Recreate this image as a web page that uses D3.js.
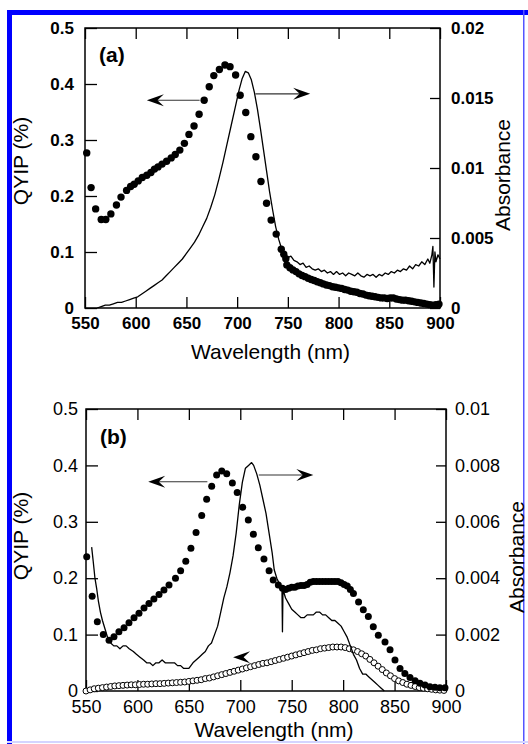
<!DOCTYPE html>
<html>
<head>
<meta charset="utf-8">
<script src="https://cdnjs.cloudflare.com/ajax/libs/d3/7.8.5/d3.min.js"></script>
<style>
html, body { margin: 0; padding: 0; background: #fff; }
svg { display: block; }
</style>
</head>
<body>
<svg id="chart" width="528" height="744"></svg>
<script>
// ---------- data ----------
var xTicks = [550, 600, 650, 700, 750, 800, 850, 900];
var qyTicks = [0, 0.1, 0.2, 0.3, 0.4, 0.5];
var absTicksA = [0, 0.005, 0.01, 0.015, 0.02];
var absTicksB = [0, 0.002, 0.004, 0.006, 0.008, 0.01];

// panel (a) QYIP, filled circles [nm, %]
var qyA = [
  [551.7,0.277],[556,0.215],[560.5,0.177],[566,0.158],[570.5,0.158],[575.5,0.168],
  [581,0.184],[585.5,0.198],[591,0.21],[595,0.217],[598.5,0.221],[602.5,0.227],
  [606.5,0.233],[611,0.237],[615,0.242],[618.5,0.248],[622,0.252],[626,0.257],
  [630.5,0.262],[635,0.268],[639,0.274],[643.5,0.282],[648,0.294],[652.5,0.31],
  [657.5,0.325],[662.5,0.346],[667.5,0.371],[672.5,0.395],[677,0.415],[682.5,0.426],
  [688,0.434],[693,0.431],[698.5,0.416],[703,0.38],[708.5,0.349],[713.5,0.306],
  [718.5,0.27],[723.5,0.226],[729,0.187],[733.5,0.157],[738.5,0.132],[743.5,0.105],
  [746,0.096],[748,0.088],[749,0.077],[752,0.072],[755,0.068],[758,0.065],[761,0.061],
  [764,0.058],[767,0.056],[770,0.053],[773,0.051],[776,0.049],[779,0.047],[782,0.045],
  [785,0.043],[788,0.041],[791,0.040],[794,0.038],[797,0.037],[800,0.036],[803,0.035],
  [806,0.033],[809,0.032],[812,0.030],[815,0.029],[818,0.028],[821,0.026],[824,0.025],
  [827,0.023],[830,0.022],[833,0.021],[836,0.020],[839,0.019],[842,0.018],[845,0.018],
  [848,0.017],[851,0.018],[854,0.018],[857,0.016],[860,0.015],[863,0.014],[866,0.014],
  [869,0.013],[872,0.012],[875,0.011],[878,0.010],[881,0.009],[884,0.008],[887,0.007],
  [890,0.006],[893,0.005],[896,0.006],[899,0.007]
];

// panel (a) absorbance, line [nm, abs]
var absA = [
  [562,0.0000],[566,0.0001],[570,0.0002],[574,0.0002],[578,0.0003],[582,0.0004],
  [586,0.0004],[590,0.0005],[594,0.0006],[598,0.0007],[602,0.0008],[606,0.0010],
  [610,0.0012],[614,0.0014],[618,0.0016],[622,0.0018],[626,0.0020],[630,0.0023],
  [634,0.0026],[638,0.0029],[642,0.0032],[646,0.0035],[650,0.0039],[654,0.0043],
  [658,0.0047],[662,0.0052],[666,0.0058],[670,0.0064],[674,0.0072],[678,0.0081],
  [682,0.0092],[686,0.0104],[690,0.0117],[694,0.0130],[698,0.0143],[702,0.0156],
  [705,0.0164],[708,0.0169],[711,0.0168],[714,0.0163],[717,0.0154],[720,0.0142],
  [723,0.0128],[726,0.0113],[729,0.0098],[732,0.0083],[735,0.0070],[738,0.0058],
  [741,0.0049],[744,0.0042],[747,0.0038],[750,0.0036],[753,0.0037],[756,0.0034],
  [759,0.0033],[762,0.0031],[765,0.0032],[768,0.0029],[771,0.0030],[774,0.0028],
  [777,0.0027],[780,0.0028],[783,0.0026],[786,0.0027],[789,0.0025],[792,0.0026],
  [795,0.0024],[798,0.0026],[801,0.0024],[804,0.0025],[807,0.0023],[810,0.0025],
  [813,0.0024],[816,0.0023],[819,0.0025],[822,0.0023],[825,0.0022],[828,0.0024],
  [831,0.0023],[834,0.0024],[837,0.0022],[840,0.0024],[843,0.0023],[846,0.0025],
  [849,0.0024],[852,0.0026],[855,0.0025],[858,0.0027],[861,0.0026],[864,0.0028],
  [867,0.0027],[870,0.0030],[873,0.0028],[876,0.0031],[879,0.0030],[882,0.0033],
  [885,0.0031],[888,0.0035],[890,0.0032],[892,0.0038],[893,0.0044],[894,0.0015],
  [895,0.0040],[896,0.0033],[898,0.0038],[900,0.0035]
];

// panel (b) QYIP, filled circles
var qyB = [
  [550.7,0.238],[556,0.168],[561,0.123],[566.8,0.100],[572.4,0.090],[577.2,0.096],
  [582,0.105],[587,0.112],[591.8,0.121],[596.7,0.130],[601.5,0.138],[606.4,0.147],
  [611.2,0.155],[616,0.163],[621,0.171],[625.8,0.179],[630.7,0.188],[637,0.200],
  [642,0.213],[647,0.230],[652,0.253],[657,0.281],[662.5,0.311],[667.3,0.340],
  [672.2,0.363],[677,0.383],[682,0.390],[686.8,0.385],[692.3,0.369],[697,0.352],
  [702.3,0.326],[707.8,0.303],[712.7,0.278],[717.5,0.254],[723,0.234],[728,0.213],
  [732,0.197],[737,0.188],[741,0.182],[744,0.180],[747,0.182],[750,0.184],[753,0.184],
  [756,0.186],[759,0.187],[762,0.187],[765,0.189],[768,0.193],[771,0.194],[774,0.194],
  [777,0.194],[780,0.194],[783,0.194],[786,0.194],[789,0.194],[792,0.194],[795,0.194],
  [798,0.192],[801,0.189],[804,0.186],[807,0.180],[810,0.173],[815,0.158],[819.6,0.144],
  [824.5,0.132],[829.3,0.114],[834.2,0.099],[840.7,0.087],[845.6,0.073],[850.4,0.055],
  [855.3,0.040],[860,0.031],[865,0.024],[870,0.018],[874.7,0.0136],[879.6,0.0106],
  [884.4,0.0076],[889.3,0.0065],[894,0.0058],[899,0.0058]
];

// panel (b) QYIP, open circles, sampled every 4 nm from 550 nm
var openStart = 550, openStep = 4;
var qyOpenB = [
  0.000,0.002,0.004,0.005,0.006,0.007,0.008,0.009,0.0095,0.010,0.0105,0.011,
  0.011,0.0115,0.012,0.012,0.0125,0.013,0.013,0.0135,0.014,0.0145,0.015,0.0155,
  0.016,0.017,0.018,0.019,0.020,0.022,0.023,0.025,0.027,0.029,0.031,0.033,
  0.035,0.037,0.039,0.041,0.043,0.045,0.047,0.049,0.050,0.052,0.054,0.056,
  0.058,0.060,0.062,0.064,0.066,0.068,0.070,0.072,0.073,0.075,0.076,0.077,
  0.078,0.078,0.078,0.077,0.075,0.073,0.070,0.066,0.062,0.056,0.050,0.044,
  0.038,0.032,0.027,0.022,0.018,0.015,0.012,0.010,0.008,0.006,0.005,0.004,
  0.003,0.002,0.0015,0.001
];

// panel (b) absorbance, line
var absB = [
  [555.5,0.0051],[557,0.0046],[558.7,0.0040],[560.5,0.0036],[562,0.0032],[564,0.0028],
  [566,0.0025],[568.5,0.0022],[571,0.0019],[574,0.0017],[577,0.0016],[580,0.0016],
  [583,0.0015],[586,0.0016],[589,0.0016],[592,0.0015],[596,0.0014],[599,0.0013],
  [602.5,0.0012],[606,0.0011],[609,0.0010],[612,0.0010],[615,0.0009],[618,0.0010],
  [621,0.0010],[624,0.0011],[627,0.0010],[630,0.0010],[633,0.0010],[636,0.0010],
  [639,0.0009],[642,0.0009],[645,0.0008],[648,0.0008],[650,0.0008],[652,0.0009],
  [654,0.0010],[657,0.0011],[660,0.0012],[663,0.0013],[666,0.0014],[669,0.0016],
  [672,0.0017],[675,0.0020],[678,0.0023],[681,0.0028],[684,0.0033],[687,0.0037],
  [690,0.0042],[693,0.0048],[696,0.0056],[699,0.0066],[702,0.0074],[705,0.0079],
  [708,0.0080],[711,0.0081],[713,0.0080],[716,0.0077],[719,0.0073],[722,0.0068],
  [725,0.0063],[728,0.0056],[731,0.0049],[733,0.0043],[735.5,0.0040],[738,0.0038],
  [740.5,0.0037],[741,0.0021],[741.5,0.0036],[744,0.0033],[747,0.0031],[750,0.0029],
  [753,0.0028],[756,0.0027],[759,0.0026],[762,0.0026],[765,0.0027],[768,0.0027],
  [771,0.0027],[774,0.0028],[777,0.0028],[780,0.0027],[783,0.0027],[786,0.0026],
  [789,0.0025],[792,0.0025],[795,0.0024],[798,0.0023],[801,0.0021],[804,0.0019],
  [807,0.0016],[810,0.0013],[813,0.0011],[816,0.0008],[819,0.0006],[822,0.0006],
  [825,0.0005],[828,0.0004],[831,0.0003],[834,0.0002],[837,0.0001],[840,0.0000]
];

// arrows: [fromNm, toNm, value, axis]
var arrowsA = [[663, 611, 0.371, "left"], [718, 772, 0.0153, "right"]];
var arrowsB = [[668, 610.5, 0.371, "left"], [718, 771, 0.00766, "right"], [700, 693, 0.060, "head"]];

// ---------- drawing ----------
var svg = d3.select("#chart");
var FONT = "'Liberation Sans', Arial, Helvetica, sans-serif";

// frame border of the figure
svg.append("rect").attr("x", 7).attr("y", 10).attr("width", 5).attr("height", 734).attr("fill", "#0000ff");
svg.append("rect").attr("x", 7).attr("y", 10).attr("width", 521).attr("height", 5).attr("fill", "#0000ff");
svg.append("rect").attr("x", 523).attr("y", 10).attr("width", 1.5).attr("height", 734).attr("fill", "#5555ff");
svg.append("rect").attr("x", 7).attr("y", 741).attr("width", 521).attr("height", 2).attr("fill", "#d4d4ff");

function drawArrow(g, xa, ya, xb, yb, shaft) {
  var ang = Math.atan2(yb - ya, xb - xa) * 180 / Math.PI;
  var L = 17, Hh = 6;
  if (shaft) {
    g.append("line")
      .attr("x1", xa).attr("y1", ya)
      .attr("x2", xb - (xb > xa ? 8 : -8)).attr("y2", yb)
      .attr("stroke", "#333").attr("stroke-width", 1.2);
  }
  g.append("path")
    .attr("d", "M0,0L" + (-L) + "," + (-Hh) + "L" + (-L * 0.62) + ",0L" + (-L) + "," + Hh + "Z")
    .attr("transform", "translate(" + xb + "," + yb + ") rotate(" + ang + ")")
    .attr("fill", "#000");
}

function panel(p) {
  var g = svg.append("g");
  var x = d3.scaleLinear().domain([550, 900]).range([p.x0, p.x1]);
  var yL = d3.scaleLinear().domain([0, 0.5]).range([p.y1, p.y0]);
  var yR = d3.scaleLinear().domain([0, p.absMax]).range([p.y1, p.y0]);
  var fmt = d3.format("~g");

  // axes (ticks inward)
  var bottom = g.append("g").attr("transform", "translate(0," + p.y1 + ")")
    .call(d3.axisBottom(x).tickValues(xTicks).tickSize(-11).tickSizeOuter(0).tickPadding(p.padB).tickFormat(fmt));
  var top = g.append("g").attr("transform", "translate(0," + p.y0 + ")")
    .call(d3.axisTop(x).tickValues(xTicks).tickSize(-11).tickSizeOuter(0).tickFormat(""));
  var left = g.append("g").attr("transform", "translate(" + p.x0 + ",0)")
    .call(d3.axisLeft(yL).tickValues(qyTicks).tickSize(-12).tickSizeOuter(0).tickPadding(p.padL).tickFormat(fmt));
  var right = g.append("g").attr("transform", "translate(" + p.x1 + ",0)")
    .call(d3.axisRight(yR).tickValues(p.absTicks).tickSize(-10).tickSizeOuter(0).tickPadding(p.padR).tickFormat(fmt));

  [bottom, top, left, right].forEach(function (a) {
    a.select(".domain").remove();
    a.selectAll("line").attr("stroke", "#000").attr("stroke-width", 1.3);
    a.selectAll("text")
      .attr("font-family", FONT)
      .attr("font-size", p.tickFs)
      .attr("font-weight", p.bold ? "bold" : "normal")
      .attr("fill", "#000");
  });

  g.append("rect")
    .attr("x", p.x0).attr("y", p.y0)
    .attr("width", p.x1 - p.x0).attr("height", p.y1 - p.y0)
    .attr("fill", "none").attr("stroke", "#000").attr("stroke-width", 1.5);

  // open circles
  if (p.open) {
    g.append("g").selectAll("circle").data(p.open).join("circle")
      .attr("cx", function (d, i) { return x(openStart + i * openStep); })
      .attr("cy", function (d) { return yL(d); })
      .attr("r", 3)
      .attr("fill", "#fff").attr("stroke", "#000").attr("stroke-width", 1);
  }

  // absorbance line
  g.append("path")
    .datum(p.abs)
    .attr("d", d3.line().x(function (d) { return x(d[0]); }).y(function (d) { return yR(d[1]); }))
    .attr("fill", "none").attr("stroke", "#000").attr("stroke-width", 1.3)
    .attr("stroke-linejoin", "round");

  // QYIP filled dots
  g.append("g").selectAll("circle").data(p.qy).join("circle")
    .attr("cx", function (d) { return x(d[0]); })
    .attr("cy", function (d) { return yL(d[1]); })
    .attr("r", p.dotR).attr("fill", "#000");

  // arrows
  p.arrows.forEach(function (a) {
    var ys = a[3] === "right" ? yR(a[2]) : yL(a[2]);
    drawArrow(g, x(a[0]), ys, x(a[1]), ys, a[3] !== "head");
  });

  // labels
  g.append("text").attr("x", p.x0 + 14).attr("y", p.y0 + p.tagDy)
    .attr("font-family", FONT).attr("font-size", 21).attr("font-weight", "bold")
    .text(p.tag);

  g.append("text")
    .attr("transform", "translate(28," + p.qyMid + ") rotate(-90)")
    .attr("text-anchor", "middle")
    .attr("font-family", FONT).attr("font-size", 21)
    .text("QYIP (%)");

  g.append("text")
    .attr("transform", "translate(" + p.absX + "," + p.absMid + ") rotate(-90)")
    .attr("text-anchor", "middle")
    .attr("font-family", FONT).attr("font-size", 21)
    .text("Absorbance");

  g.append("text")
    .attr("x", (p.x0 + p.x1) / 2 + 8).attr("y", p.y1 + p.titleDy)
    .attr("text-anchor", "middle")
    .attr("font-family", FONT).attr("font-size", 21)
    .text("Wavelength (nm)");
}

panel({
  x0: 85, x1: 440, y0: 28, y1: 308,
  absMax: 0.02, absTicks: absTicksA,
  qy: qyA, abs: absA, open: null, arrows: arrowsA,
  bold: true, tickFs: 17, padB: 9, padL: 11, padR: 11,
  dotR: 3.7, tag: "(a)", tagDy: 34, qyMid: 161, absX: 510, absMid: 175, titleDy: 51
});

panel({
  x0: 86, x1: 446, y0: 409, y1: 691,
  absMax: 0.01, absTicks: absTicksB,
  qy: qyB, abs: absB, open: qyOpenB, arrows: arrowsB,
  bold: false, tickFs: 18, padB: 9, padL: 8, padR: 9,
  dotR: 3.5, tag: "(b)", tagDy: 35, qyMid: 536, absX: 524, absMid: 557, titleDy: 46
});
</script>
</body>
</html>
